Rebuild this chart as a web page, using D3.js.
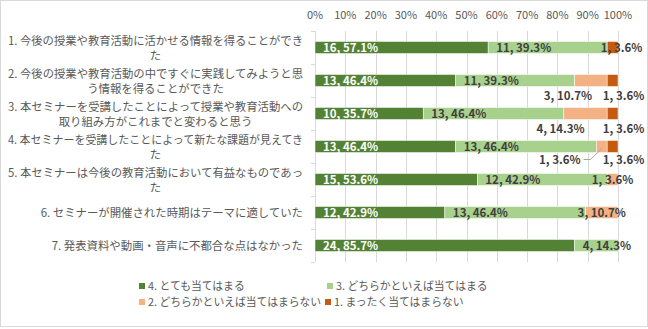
<!DOCTYPE html>
<html>
<head>
<meta charset="utf-8">
<script src="https://cdn.jsdelivr.net/npm/d3@7"></script>
<style>
  body { margin: 0; background: #fff; }
  svg { font-family: "Noto Sans CJK JP", "Noto Sans", sans-serif; }
</style>
</head>
<body>
<div id="chart"></div>
<script>
// questions (wrapped as in the original)
var questions = [
    ["1. 今後の授業や教育活動に活かせる情報を得ることができ", "た"],
    ["2. 今後の授業や教育活動の中ですぐに実践してみようと思", "う情報を得ることができた"],
    ["3. 本セミナーを受講したことによって授業や教育活動への", "取り組み方がこれまでと変わると思う"],
    ["4. 本セミナーを受講したことによって新たな課題が見えてき", "た"],
    ["5. 本セミナーは今後の教育活動において有益なものであっ", "た"],
    ["6. セミナーが開催された時期はテーマに適していた"],
    ["7. 発表資料や動画・音声に不都合な点はなかった"]
];
var seriesNames = ["4. とても当てはまる", "3. どちらかといえば当てはまる", "2. どちらかといえば当てはまらない", "1. まったく当てはまらない"];
var s4 = [16, 13, 10, 13, 15, 12, 24];
var s3 = [11, 11, 13, 13, 12, 13, 4];
var s2 = [0, 3, 4, 1, 1, 3, 0];
var s1 = [1, 1, 1, 1, 0, 0, 0];
var xTicks = [0, 10, 20, 30, 40, 50, 60, 70, 80, 90, 100];

var colors = ["#548235", "#a9d18e", "#f4b183", "#c55a11"];
var labelColors = ["#ffffff", "#404040", "#404040", "#404040"];

// labels that were dragged by hand in the original: [dx, dy] from segment centre
var moved = {
    "0-3": [9, 0],
    "1-2": [-23, 15], "1-3": [11, 15],
    "2-2": [-25, 15], "2-3": [11, 15],
    "3-2": [-42, 13], "3-3": [11, 13]
};

var W = 648, H = 329;
var plotL = 315, plotR = 618, plotT = 31, plotB = 262;

var rows = questions.map(function (q, i) {
    var counts = [s4[i], s3[i], s2[i], s1[i]];
    var total = d3.sum(counts);
    return { i: i, counts: counts, pct: counts.map(function (c) { return c / total * 100; }) };
});

var svg = d3.select("#chart").append("svg")
    .attr("width", W).attr("height", H);

svg.append("rect")
    .attr("x", 0.5).attr("y", 0.5)
    .attr("width", W - 1).attr("height", H - 3)
    .attr("fill", "#fff").attr("stroke", "#d9d9d9");

var x = d3.scaleLinear().domain([0, 100]).range([plotL, plotR]);
var y = d3.scaleBand().domain(d3.range(questions.length)).range([plotT, plotB]).paddingInner(0.636).paddingOuter(0.318);

// grid
svg.append("g").selectAll("line")
    .data(xTicks.slice(1))
    .enter().append("line")
    .attr("x1", function (d) { return Math.round(x(d)) + 0.5; })
    .attr("x2", function (d) { return Math.round(x(d)) + 0.5; })
    .attr("y1", plotT).attr("y2", plotB)
    .attr("stroke", "#d9d9d9");

// top axis labels
svg.append("g").selectAll("text")
    .data(xTicks)
    .enter().append("text")
    .attr("x", function (d) { return x(d); })
    .attr("y", 19)
    .attr("text-anchor", "middle")
    .attr("font-size", "11px")
    .attr("fill", "#595959")
    .text(function (d) { return d + "%"; });

// y axis line + ticks between categories
svg.append("line")
    .attr("x1", plotL + 0.5).attr("x2", plotL + 0.5)
    .attr("y1", plotT).attr("y2", plotB)
    .attr("stroke", "#d9d9d9");
svg.append("g").selectAll("line")
    .data(d3.range(questions.length + 1))
    .enter().append("line")
    .attr("x1", plotL - 4).attr("x2", plotL)
    .attr("y1", function (d) { return Math.round(plotT + d * y.step()) + 0.5; })
    .attr("y2", function (d) { return Math.round(plotT + d * y.step()) + 0.5; })
    .attr("stroke", "#d9d9d9");

// category labels: lines centred within a right-aligned block
var catG = svg.append("g");
var maxLabelW = 295;
questions.forEach(function (lines, i) {
    var g = catG.append("g");
    var cy = y(i) + y.bandwidth() / 2;
    var lh = 15;
    var t = g.selectAll("text").data(lines).enter().append("text")
        .attr("y", function (d, k) { return cy + (k - (lines.length - 1) / 2) * lh + 4 + (lines.length > 1 ? 1 : 0); })
        .attr("font-size", "11.4px")
        .attr("fill", "#595959")
        .attr("text-anchor", "middle")
        .text(function (d) { return d; });
    t.each(function () {
        if (this.getComputedTextLength() > maxLabelW) {
            d3.select(this).attr("textLength", maxLabelW).attr("lengthAdjust", "spacingAndGlyphs");
        }
    });
    var maxW = Math.min(maxLabelW, d3.max(t.nodes(), function (n) { return n.getComputedTextLength(); }));
    t.attr("x", 303 - maxW / 2);
});

// bars
var barG = svg.append("g");
rows.forEach(function (r) {
    var start = 0;
    r.pct.forEach(function (p, s) {
        var x0 = start, x1 = start + p;
        start = x1;
        if (r.counts[s] === 0) return;
        barG.append("rect")
            .attr("x", x(x0))
            .attr("y", y(r.i))
            .attr("width", x(x1) - x(x0))
            .attr("height", y.bandwidth())
            .attr("fill", colors[s])
            .attr("stroke", "#fff")
            .attr("stroke-width", 0.5);

        var label = r.counts[s] + ", " + d3.format(".1f")(p) + "%";
        var cy = y(r.i) + y.bandwidth() / 2 + 4;
        var key = r.i + "-" + s;
        var txt = barG.append("text")
            .attr("font-size", "11.5px")
            .attr("font-weight", "bold")
            .attr("fill", labelColors[s])
            .text(label);
        if (moved[key]) {
            var cx = (x(x0) + x(x1)) / 2 + moved[key][0];
            txt.attr("x", cx).attr("y", cy + moved[key][1]).attr("text-anchor", "middle")
                .attr("fill", "#404040");
            if (key === "3-2") {
                var tw = txt.node().getComputedTextLength();
                barG.append("polyline")
                    .attr("points", [[cx + tw / 2 + 3, cy + moved[key][1] - 4], [cx + tw / 2 + 10, cy + moved[key][1] - 4], [(x(x0) + x(x1)) / 2, y(r.i) + y.bandwidth() / 2 + 2]].join(" "))
                    .attr("fill", "none")
                    .attr("stroke", "#a6a6a6");
            }
        } else if (x(x1) - x(x0) >= 40) {
            txt.attr("x", x(x0) + 8).attr("y", cy);
        } else {
            txt.attr("x", (x(x0) + x(x1)) / 2).attr("y", cy).attr("text-anchor", "middle");
        }
    });
});

// legend
var legendPos = [[139, 287], [327, 287], [139, 303], [325, 303]];
var leg = svg.append("g").selectAll("g")
    .data(seriesNames)
    .enter().append("g")
    .attr("transform", function (d, i) { return "translate(" + legendPos[i][0] + "," + legendPos[i][1] + ")"; });
leg.append("rect")
    .attr("x", 0).attr("y", -4)
    .attr("width", 6).attr("height", 6)
    .attr("fill", function (d, i) { return colors[i]; });
leg.append("text")
    .attr("x", 9).attr("y", 3)
    .attr("font-size", "10.8px")
    .attr("fill", "#595959")
    .text(function (d) { return d; });
</script>
</body>
</html>
